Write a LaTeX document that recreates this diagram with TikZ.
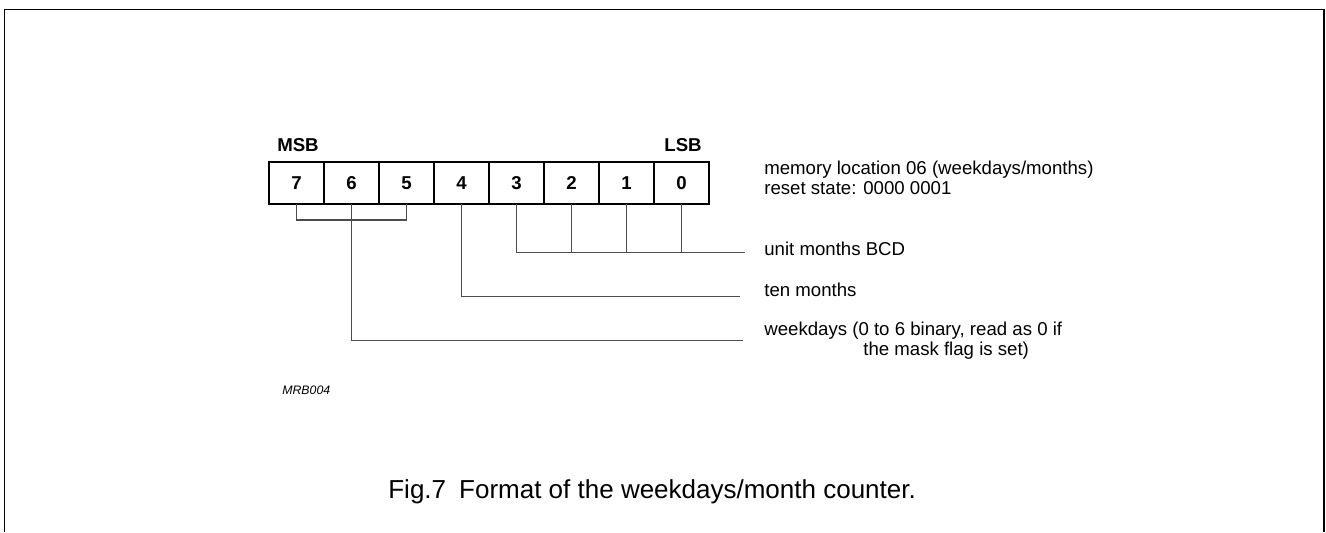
\documentclass[tikz,border=0pt]{standalone}
\usepackage{fontspec}
\setmainfont{Liberation Sans}
\usetikzlibrary{positioning}

\tikzset{
  bitbox/.style={draw, line width=0.7pt, minimum width=1.1cm, minimum height=0.84cm,
                 inner sep=0pt, outer sep=0pt, font=\fontsize{10.6}{11.4}\selectfont\bfseries},
  label/.style={anchor=west, inner sep=0pt, align=left, font=\fontsize{10.6}{11.4}\selectfont},
  bus/.style={draw=black!70, line width=0.6pt},
}

\begin{document}
\begin{tikzpicture}[x=0.02cm, y=-0.02cm]
    \useasboundingbox (0,0) rectangle (1326,532);
    % frame
    \draw[line width=1.1pt] (4.5,532) -- (4.5,9.5) -- (1324,9.5) -- (1324,532);

    \node [bitbox](b7) at (296.5,183) {7};
    \node [bitbox](b6) [right=0pt of b7] {6};
    \node [bitbox](b5) [right=0pt of b6] {5};
    \node [bitbox](b4) [right=0pt of b5] {4};
    \node [bitbox](b3) [right=0pt of b4] {3};
    \node [bitbox](b2) [right=0pt of b3] {2};
    \node [bitbox](b1) [right=0pt of b2] {1};
    \node [bitbox](b0) [right=0pt of b1] {0};

    \node [font=\fontsize{10.6}{11.4}\selectfont\bfseries](msb) at (298,145) {MSB};
    \node [font=\fontsize{10.6}{11.4}\selectfont\bfseries](lsb) at (683,145) {LSB};

    \node [label](mem) at (764,178) {memory location 06 (weekdays/months)\\reset state: 0000 0001};
    \node [label](unit) at (764,249) {unit months BCD};
    \node [label](ten) at (764,290) {ten months};
    \node [label](wkd) at (764,340.5) {weekdays (0 to 6 binary, read as 0 if\\\hspace*{1.98cm}the mask flag is set)};

    \coordinate (ue) at (745,252.7);
    \coordinate (te) at (740,296.7);
    \coordinate (we) at (743,340.7);

    % bits 3..0
    \draw[bus] (b3.south) |- (ue);
    \foreach \b in {b2,b1,b0}
        \draw[bus] (\b.south) -- (\b.south |- ue);
    % bit 4
    \draw[bus] (b4.south) |- (te);
    % bits 7..5
    \draw[bus] (b7.south) -- ++(0,16) -| (b5.south);
    \draw[bus] (b6.south) |- (we);

    \node [anchor=west, inner sep=0pt, font=\fontsize{7}{8}\selectfont\itshape](code) at (282,390) {MRB004};
    \node [anchor=west, inner sep=0pt, font=\fontsize{14.8}{17}\selectfont](cap) at (388,492) {Fig.7\hspace{0.5em}Format of the weekdays/month counter.};
\end{tikzpicture}
\end{document}
